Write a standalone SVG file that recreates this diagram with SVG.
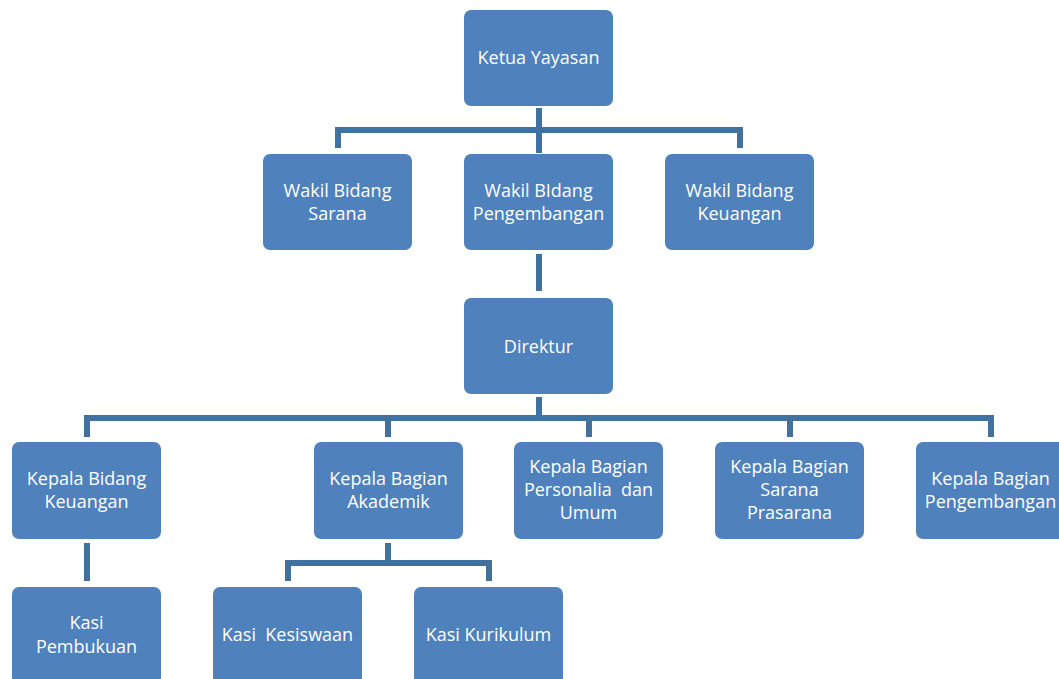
<svg xmlns="http://www.w3.org/2000/svg" width="1059" height="679" viewBox="0 0 1059 679">
<style>
.box{fill:#4f81bd;}
.lbl{fill:#ffffff;font-family:"Open Sans","Liberation Sans",sans-serif;font-size:18px;text-anchor:middle;}
.con{fill:none;stroke:#41719c;stroke-width:6;stroke-linejoin:miter;}
</style>
<rect width="1059" height="679" fill="#ffffff"/>
<g id="connectors">
<path class="con" d="M539 108V153"/>
<path class="con" d="M338 148V130H740V148"/>
<path class="con" d="M539 254V291"/>
<path class="con" d="M539 397V418"/>
<path class="con" d="M87 437V418H991V437"/>
<path class="con" d="M388 418V437M589 418V437M790 418V437"/>
<path class="con" d="M87 543V581"/>
<path class="con" d="M388 543V563"/>
<path class="con" d="M288 581V563H489V581"/>
</g>
<g id="ketua"><rect class="box" x="464" y="10" width="149" height="96" rx="7"/><text class="lbl" x="538.5" y="64">Ketua Yayasan</text></g>
<g id="wakil-sarana"><rect class="box" x="263" y="154" width="149" height="96" rx="7"/><text class="lbl" x="337.5" y="197">Wakil Bidang</text><text class="lbl" x="337.5" y="220">Sarana</text></g>
<g id="wakil-pengembangan"><rect class="box" x="464" y="154" width="149" height="96" rx="7"/><text class="lbl" x="538.5" y="197">Wakil BIdang</text><text class="lbl" x="538.5" y="220">Pengembangan</text></g>
<g id="wakil-keuangan"><rect class="box" x="665" y="154" width="149" height="96" rx="7"/><text class="lbl" x="739.5" y="197">Wakil Bidang</text><text class="lbl" x="739.5" y="220">Keuangan</text></g>
<g id="direktur"><rect class="box" x="464" y="298" width="149" height="96" rx="7"/><text class="lbl" x="538.5" y="353">Direktur</text></g>
<g id="kb-keuangan"><rect class="box" x="12" y="442" width="149" height="97" rx="7"/><text class="lbl" x="86.5" y="485">Kepala Bidang</text><text class="lbl" x="86.5" y="508">Keuangan</text></g>
<g id="kb-akademik"><rect class="box" x="314" y="442" width="149" height="97" rx="7"/><text class="lbl" x="388.5" y="485">Kepala Bagian</text><text class="lbl" x="388.5" y="508">Akademik</text></g>
<g id="kb-personalia"><rect class="box" x="514" y="442" width="149" height="97" rx="7"/><text class="lbl" x="588.5" y="473">Kepala Bagian</text><text class="lbl" x="588.5" y="496" xml:space="preserve">Personalia  dan</text><text class="lbl" x="588.5" y="519">Umum</text></g>
<g id="kb-sarana"><rect class="box" x="715" y="442" width="149" height="97" rx="7"/><text class="lbl" x="789.5" y="473">Kepala Bagian</text><text class="lbl" x="789.5" y="496">Sarana</text><text class="lbl" x="789.5" y="519">Prasarana</text></g>
<g id="kb-pengembangan"><rect class="box" x="916" y="442" width="149" height="97" rx="7"/><text class="lbl" x="990.5" y="485">Kepala Bagian</text><text class="lbl" x="990.5" y="508">Pengembangan</text></g>
<g id="kasi-pembukuan"><rect class="box" x="12" y="587" width="149" height="97" rx="7"/><text class="lbl" x="86.5" y="629">Kasi</text><text class="lbl" x="86.5" y="653">Pembukuan</text></g>
<g id="kasi-kesiswaan"><rect class="box" x="213" y="587" width="149" height="97" rx="7"/><text class="lbl" x="287.5" y="641" xml:space="preserve">Kasi  Kesiswaan</text></g>
<g id="kasi-kurikulum"><rect class="box" x="414" y="587" width="149" height="97" rx="7"/><text class="lbl" x="488.5" y="641">Kasi Kurikulum</text></g>
</svg>
